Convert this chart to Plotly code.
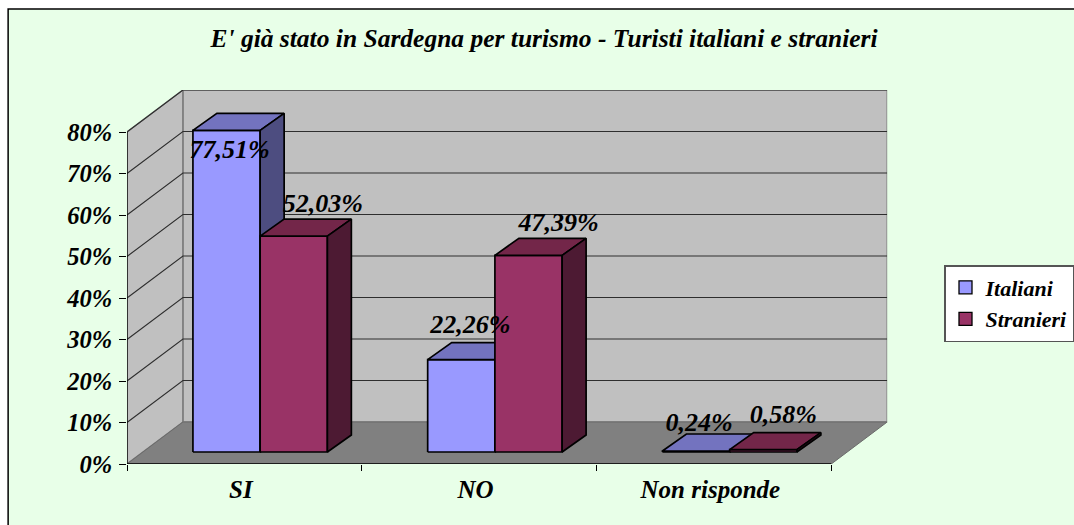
import plotly.graph_objects as go

# --- data ---
categories = ["SI", "NO", "Non risponde"]
italiani = [77.51, 22.26, 0.24]
stranieri = [52.03, 47.39, 0.58]
italiani_labels = ["77,51%", "22,26%", "0,24%"]
stranieri_labels = ["52,03%", "47,39%", "0,58%"]
y_ticks = [0, 10, 20, 30, 40, 50, 60, 70, 80]
y_tick_labels = ["0%", "10%", "20%", "30%", "40%", "50%", "60%", "70%", "80%"]

# --- geometry (axis units: one category = 1 on x, percent on y) ---
W, H = 1074, 525
L, R, T, B = 127, 888, 90, 464
CAT_PX = 235.0
PCT_PX = 4.15
def dx(px): return px / CAT_PX
def dy(px): return px / PCT_PX

X_MAX = (R - L) / CAT_PX
Y_MAX = (B - T) / PCT_PX
N = len(categories)
WALL_DX, WALL_DY = dx(56), dy(42)
FRONT_DX, FRONT_DY = dx(16), dy(12)
DEPTH_DX, DEPTH_DY = dx(24), dy(17)
BAR_W = dx(67.3)
GAP = dx(50)

WALL = "#C0C0C0"
FLOOR = "#808080"
EDGE = "#808080"
FONT = "Liberation Serif"
BG = "#E8FFE8"

def tf(size):
    return dict(family=FONT, size=size, color="black", weight="bold", style="italic")

def polys(faces):
    xs, ys = [], []
    for f in faces:
        xs += [p[0] for p in f] + [f[0][0], None]
        ys += [p[1] for p in f] + [f[0][1], None]
    return xs, ys

fig = go.Figure()

# walls and floor
wall_faces = [
    [(WALL_DX, WALL_DY), (N + WALL_DX, WALL_DY), (N + WALL_DX, Y_MAX), (WALL_DX, Y_MAX)],
    [(0, 0), (WALL_DX, WALL_DY), (WALL_DX, Y_MAX), (0, y_ticks[-1])],
]
x, y = polys(wall_faces)
fig.add_trace(go.Scatter(x=x, y=y, mode="lines", fill="toself", fillcolor=WALL,
                         line=dict(color=EDGE, width=1.5), hoverinfo="skip", showlegend=False))
x, y = polys([[(0, 0), (N, 0), (N + WALL_DX, WALL_DY), (WALL_DX, WALL_DY)]])
fig.add_trace(go.Scatter(x=x, y=y, mode="lines", fill="toself", fillcolor=FLOOR,
                         line=dict(color="#6a6a6a", width=1), hoverinfo="skip", showlegend=False))

# gridlines
gx, gy = [], []
for t in y_ticks[1:]:
    gx += [0, WALL_DX, N + WALL_DX, None]
    gy += [t, t + WALL_DY, t + WALL_DY, None]
fig.add_trace(go.Scatter(x=gx, y=gy, mode="lines", line=dict(color="#2e2e2e", width=1.1),
                         hoverinfo="skip", showlegend=False))

# axis lines
fig.add_trace(go.Scatter(x=[0, 0, N], y=[y_ticks[-1], 0, 0], mode="lines",
                         line=dict(color="black", width=1.3), hoverinfo="skip", showlegend=False))

# bars
series = [
    ("Italiani", italiani, 0, "#9999FF", "#7373BF", "#4D4D80"),
    ("Stranieri", stranieri, 1, "#993366", "#732649", "#4D1A33"),
]
for name, vals, k, c_front, c_top, c_side in series:
    front, top, side = [], [], []
    for i, v in enumerate(vals):
        x0 = i + GAP + FRONT_DX + k * BAR_W
        x1 = x0 + BAR_W
        y0 = FRONT_DY
        y1 = FRONT_DY + v
        front.append([(x0, y0), (x1, y0), (x1, y1), (x0, y1)])
        top.append([(x0, y1), (x1, y1), (x1 + DEPTH_DX, y1 + DEPTH_DY), (x0 + DEPTH_DX, y1 + DEPTH_DY)])
        side.append([(x1, y0), (x1 + DEPTH_DX, y0 + DEPTH_DY), (x1 + DEPTH_DX, y1 + DEPTH_DY), (x1, y1)])
    for faces, col in ((front, c_front), (top, c_top), (side, c_side)):
        x, y = polys(faces)
        fig.add_trace(go.Scatter(x=x, y=y, mode="lines", fill="toself", fillcolor=col, name=name,
                                 line=dict(color="black", width=1.7), hoverinfo="skip",
                                 showlegend=False))
    # legend entry
    fig.add_trace(go.Scatter(x=[None], y=[None], mode="markers", name=name,
                             marker=dict(symbol="square", size=13, color=c_front,
                                         line=dict(color="black", width=1.3))))

# data labels: px shift from the front-top centre of each bar
label_shift_it = [(3, -21), (9, 33), (3, 27)]
label_shift_st = [(29, 31), (30, 31), (20, 33)]
for vals, labels, k, shifts in ((italiani, italiani_labels, 0, label_shift_it),
                                (stranieri, stranieri_labels, 1, label_shift_st)):
    xs = [i + GAP + FRONT_DX + (k + 0.5) * BAR_W + dx(s[0]) for i, s in enumerate(shifts)]
    ys = [FRONT_DY + v + dy(s[1]) for v, s in zip(vals, shifts)]
    fig.add_trace(go.Scatter(x=xs, y=ys, mode="text", text=labels, textposition="middle center",
                             textfont=tf(26), hoverinfo="skip", showlegend=False, cliponaxis=False))

def pxx(p): return (p - L) / (W - L)
def pxy(p): return (B - p) / (B - T)

fig.update_layout(
    width=W, height=H, autosize=False,
    margin=dict(l=L, r=0, t=T, b=H - B, pad=0),
    paper_bgcolor="white", plot_bgcolor="rgba(0,0,0,0)",
    title=dict(text="E' già stato in Sardegna per turismo - Turisti italiani e stranieri",
               x=544 / W, xref="container", xanchor="center", y=1 - 38 / H, yanchor="middle",
               font=tf(25.5)),
    xaxis=dict(domain=[0, pxx(R)], range=[0, X_MAX], tickmode="array",
               tickvals=[i + 0.485 for i in range(N)],
               ticktext=categories, ticks="outside", ticklen=3, tickcolor="rgba(0,0,0,0)",
               tickfont=tf(25), showgrid=False, zeroline=False, showline=False,
               minor=dict(tickmode="array", tickvals=list(range(N + 1)), ticks="outside",
                          ticklen=6, tickwidth=1.3, tickcolor="black", showgrid=False)),
    yaxis=dict(range=[0, Y_MAX], tickmode="array", tickvals=y_ticks, ticktext=y_tick_labels,
               ticks="outside", ticklen=7, tickwidth=1.3, tickcolor="black", tickfont=tf(24.5),
               ticklabelstandoff=2, showgrid=False, zeroline=False, showline=False),
    legend=dict(x=pxx(945), xanchor="left", y=pxy(265), yanchor="top", bgcolor="white",
                bordercolor="#555555", borderwidth=1.5, font=tf(22), tracegroupgap=0),
    shapes=[dict(type="rect", layer="below", xref="paper", yref="paper",
                 x0=pxx(8), x1=pxx(1100), y0=pxy(9), y1=pxy(540),
                 fillcolor=BG, line=dict(color="black", width=1.5))],
    showlegend=True,
)

fig.write_html("out.html", config={"displayModeBar": False},
               post_script="document.body.style.margin='0';document.documentElement.style.overflow='hidden';")
